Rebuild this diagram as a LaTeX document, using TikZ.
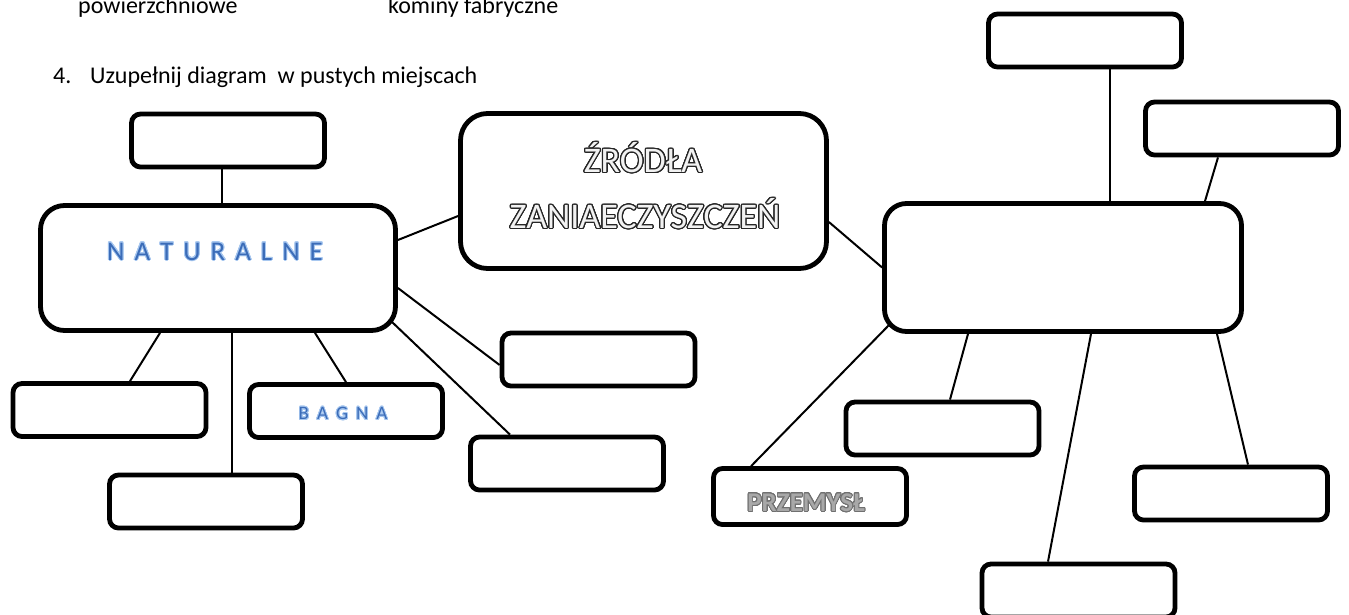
\documentclass[tikz,border=0pt]{standalone}
\usepackage{fontspec}
\setmainfont{Carlito}
\usepackage{contour}
\contourlength{0.9pt}
\contournumber{24}
\definecolor{natblue}{HTML}{3B6CB8}
\definecolor{natglow}{HTML}{A8C8F0}
\definecolor{przgray}{HTML}{A8A8A8}
\definecolor{przline}{HTML}{707070}
\definecolor{srcfill}{HTML}{F2F2F2}
\pgfdeclarelayer{bg}
\pgfsetlayers{bg,main}
\newcommand{\lsp}{\hspace{10pt}}
\newcommand{\lspb}{\hspace{8pt}}
\begin{document}
\begin{tikzpicture}[x=1pt,y=-1pt,
  smallbox/.style={draw, line width=4.8pt, fill=white, rounded corners=9pt,
    minimum width=193pt, minimum height=53pt, inner sep=0pt},
  bigbox/.style={draw, line width=4.8pt, fill=white, inner sep=0pt},
  link/.style={line width=2pt},
  plain/.style={inner sep=0pt, font=\fontsize{24}{28}\selectfont}
]
\useasboundingbox (0,0) rectangle (1349,614);
\clip (0,0) rectangle (1349,614);

% header text
\node[plain, anchor=base west] (t1) at (78,13) {powierzchniowe};
\node[plain, anchor=base west] (t2) at (388,13) {kominy fabryczne};
\node[plain, anchor=base west] (n4) at (53,83) {4.};
\node[plain, anchor=base west] (task) at (90,83) {Uzupełnij diagram\ \ w pustych miejscach};

% main boxes
\node[bigbox, rounded corners=24pt, minimum width=355pt, minimum height=125pt] (nat) at (218,268) {};
\node[bigbox, rounded corners=27pt, minimum width=366pt, minimum height=155pt] (src) at (643.5,191) {};
\node[bigbox, rounded corners=22pt, minimum width=357pt, minimum height=128pt] (rt) at (1063,267.5) {};

% small boxes
\node[smallbox] (b1) at (228,140.5) {};
\node[smallbox] (tr1) at (1085,40.5) {};
\node[smallbox] (tr2) at (1242,128.5) {};
\node[smallbox] (bA) at (109.5,410) {};
\node[smallbox] (bC) at (206,501.5) {};
\node[smallbox] (bBag) at (346,411) {};
\node[smallbox] (bD) at (598.5,359.5) {};
\node[smallbox] (bE) at (567,463.5) {};
\node[smallbox] (bF) at (942.5,428.5) {};
\node[smallbox, minimum height=56pt] (prz) at (810,496.5) {};
\node[smallbox] (bG) at (1231,493.5) {};
\node[smallbox] (bH) at (1078.5,590.5) {};

% texts in boxes
\node[inner sep=0pt, font=\fontsize{36}{40}\selectfont, text=srcfill] (srct1) at (643,158) {\contourlength{1.2pt}\contour{black!85}{ŹRÓDŁA}};
\node[inner sep=0pt, font=\fontsize{36}{40}\selectfont, text=srcfill] (srct2) at (645,214) {\contourlength{1.2pt}\contour{black!85}{ZANIAECZYSZCZEŃ}};
\node[inner sep=0pt, font=\fontsize{27}{30}\selectfont, text=natblue] (natt) at (215,252)
  {\contour{natglow}{N\lsp A\lsp T\lsp U\lsp R\lsp A\lsp L\lsp N\lsp E}};
\node[inner sep=0pt, font=\fontsize{19}{22}\selectfont, text=natblue] (bagt) at (343,414)
  {\contour{natglow}{B\lspb A\lspb G\lspb N\lspb A}};
\node[inner sep=0pt, font=\bfseries\fontsize{27}{30}\selectfont, text=przgray] (przt) at (806,503)
  {\contour{przline}{PRZEMYSŁ}};

% connectors
\begin{pgfonlayer}{bg}
\draw[link] ([xshift=-6pt]b1.south) -- ([xshift=4pt]nat.north);
\draw[link] ([yshift=28pt]nat.east) -- ([yshift=-25pt]src.west);
\draw[link] ([yshift=-31pt]src.east) -- (rt.west);
\draw[link] ([xshift=-58pt]nat.south) -- ([xshift=20.5pt]bA.north);
\draw[link] ([xshift=14pt]nat.south) -- ([xshift=26pt]bC.north);
\draw[link] ([xshift=97pt]nat.south) -- (bBag.north);
\draw[link] ([yshift=-20pt]nat.east) -- ([yshift=-5.5pt]bD.west);
\draw[link] ([xshift=-8pt,yshift=-52pt]nat.east) -- ([xshift=-57pt]bE.north);
\draw[link] ([xshift=47pt]rt.north) -- ([xshift=25pt]tr1.south);
\draw[link] ([xshift=142pt]rt.north) -- ([xshift=-24pt]tr2.south);
\draw[link] ([xshift=8pt,yshift=10pt]rt.south west) -- ([xshift=40pt]prz.north west);
\draw[link] ([xshift=-95pt]rt.south) -- ([xshift=7.5pt]bF.north);
\draw[link] ([xshift=28pt]rt.south) -- ([xshift=-30.5pt]bH.north);
\draw[link] ([xshift=154pt]rt.south) -- ([xshift=17pt]bG.north);
\end{pgfonlayer}
\end{tikzpicture}
\end{document}
